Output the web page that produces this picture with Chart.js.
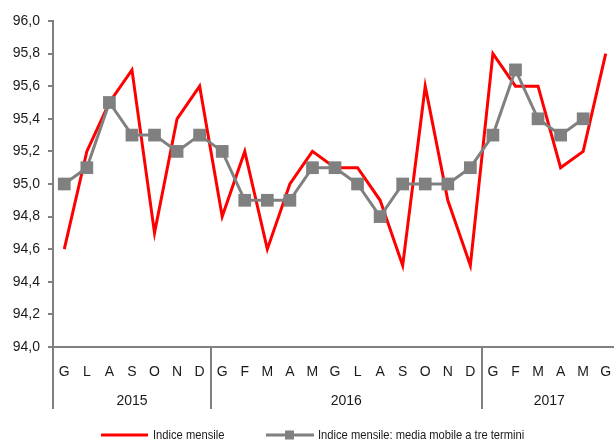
<!DOCTYPE html>
<html>
<head>
<meta charset="utf-8">
<script src="https://cdn.jsdelivr.net/npm/chart.js@4/dist/chart.umd.min.js"></script>
<style>
  html, body { margin: 0; padding: 0; overflow: hidden; background: #fff; width: 614px; }
  #wrap { position: relative; width: 620px; height: 443px; }
  canvas { display: block; width: 620px; height: 443px; }
</style>
</head>
<body>
<div id="wrap"><canvas id="c" width="620" height="443"></canvas></div>
<script>
'use strict';

// mesi (2015 da giugno a dicembre, 2016 completo, 2017 fino a giugno)
const months = ['G','L','A','S','O','N','D',
  'G','F','M','A','M','G','L','A','S','O','N','D',
  'G','F','M','A','M','G'];
const years = ['2015', '2016', '2017'];
const yearSpans = [7, 12, 6];

const indiceMensile = [94.6, 95.2, 95.5, 95.7, 94.7, 95.4, 95.6,
  94.8, 95.2, 94.6, 95.0, 95.2, 95.1, 95.1, 94.9, 94.5, 95.6, 94.9, 94.5,
  95.8, 95.6, 95.6, 95.1, 95.2, 95.8];
const mediaMobile = [95.0, 95.1, 95.5, 95.3, 95.3, 95.2, 95.3,
  95.2, 94.9, 94.9, 94.9, 95.1, 95.1, 95.0, 94.8, 95.0, 95.0, 95.0, 95.1,
  95.3, 95.7, 95.4, 95.3, 95.4, null];

const RED = '#ff0000';
const GREY = '#808080';
const TEXT = '#1a1a1a';
const FONT = "'Liberation Sans', Arial, sans-serif";

// ── separatori d'anno, etichette anni e legenda ──
const extras = {
  id: 'extras',
  afterDraw(chart) {
    const ctx = chart.ctx;
    const x = chart.scales.x;
    const area = chart.chartArea;
    const bottom = 409;

    ctx.save();
    ctx.strokeStyle = GREY;
    ctx.lineWidth = 2;
    let start = 0;
    yearSpans.forEach((span, i) => {
      const px = Math.round(x.getPixelForValue(start - 0.5));
      ctx.beginPath();
      ctx.moveTo(px, area.bottom);
      ctx.lineTo(px, bottom);
      ctx.stroke();

      ctx.fillStyle = TEXT;
      ctx.font = '14px ' + FONT;
      ctx.textAlign = 'center';
      ctx.textBaseline = 'middle';
      ctx.fillText(years[i], x.getPixelForValue(start + (span - 1) / 2), 401);
      start += span;
    });

    // legenda
    const ly = 435;
    ctx.lineWidth = 3;
    ctx.strokeStyle = RED;
    ctx.beginPath(); ctx.moveTo(101, ly); ctx.lineTo(148, ly); ctx.stroke();
    ctx.strokeStyle = GREY;
    ctx.beginPath(); ctx.moveTo(266, ly); ctx.lineTo(314, ly); ctx.stroke();
    ctx.fillStyle = GREY;
    ctx.fillRect(285, ly - 4.5, 9, 9);

    // testo leggermente condensato come nell'originale
    ctx.fillStyle = TEXT;
    ctx.font = '13px ' + FONT;
    ctx.textAlign = 'left';
    ctx.textBaseline = 'middle';
    const sx = 0.86;
    ctx.save();
    ctx.scale(sx, 1);
    ctx.fillText('Indice mensile', 153 / sx, ly);
    ctx.fillText('Indice mensile: media mobile a tre termini', 318 / sx, ly);
    ctx.restore();
    ctx.restore();
  }
};

new Chart(document.getElementById('c'), {
  type: 'line',
  data: {
    labels: months,
    datasets: [{
      label: 'Indice mensile',
      data: indiceMensile,
      borderColor: RED,
      borderWidth: 3,
      pointRadius: 0,
      tension: 0,
      order: 1
    }, {
      label: 'Indice mensile: media mobile a tre termini',
      data: mediaMobile,
      borderColor: GREY,
      backgroundColor: GREY,
      borderWidth: 3,
      pointStyle: 'rect',
      pointRadius: 9,
      pointBorderWidth: 0,
      pointBackgroundColor: GREY,
      tension: 0,
      order: 0
    }]
  },
  options: {
    responsive: false,
    maintainAspectRatio: false,
    animation: false,
    layout: { autoPadding: false, padding: { top: 21, right: 3, left: 0, bottom: 0 } },
    plugins: {
      legend: { display: false },
      tooltip: { enabled: false }
    },
    scales: {
      x: {
        offset: true,
        grid: { display: false, drawTicks: false },
        border: { display: true, color: GREY, width: 2 },
        ticks: {
          color: TEXT,
          font: { family: FONT, size: 14 },
          padding: 17,
          maxRotation: 0,
          autoSkip: false
        },
        afterFit(scale) {
          scale.height = 96;
          scale.paddingLeft = 0;
          scale.paddingRight = 0;
        }
      },
      y: {
        min: 94,
        max: 96,
        grid: { drawOnChartArea: false, drawTicks: true, tickLength: 5, color: GREY, lineWidth: 2 },
        border: { display: true, color: GREY, width: 2 },
        ticks: {
          stepSize: 0.2,
          color: TEXT,
          font: { family: FONT, size: 14 },
          padding: 8,
          callback: v => v.toFixed(1).replace('.', ',')
        },
        afterFit(scale) { scale.width = 53; }
      }
    }
  },
  plugins: [extras]
});
</script>
</body>
</html>
